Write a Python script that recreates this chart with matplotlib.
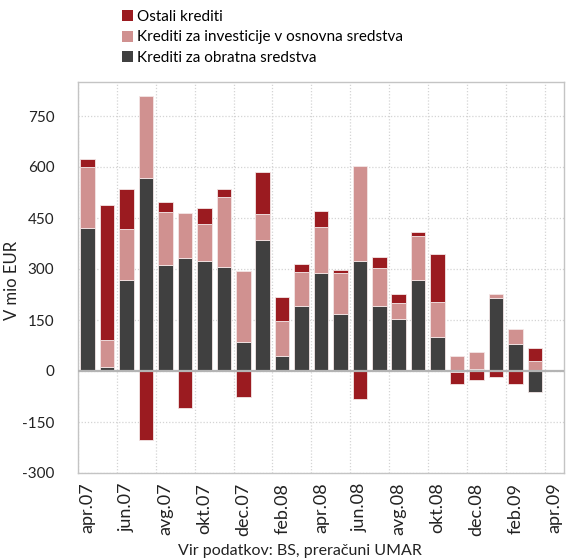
import matplotlib
matplotlib.use("Agg")
import matplotlib.pyplot as plt
import numpy as np
from matplotlib.patches import Patch

plt.rcParams['font.family'] = ['Lato', 'DejaVu Sans']
plt.rcParams['axes.unicode_minus'] = False

months = ["apr.07", "maj.07", "jun.07", "jul.07", "avg.07", "sep.07", "okt.07", "nov.07",
          "dec.07", "jan.08", "feb.08", "mar.08", "apr.08", "maj.08", "jun.08", "jul.08",
          "avg.08", "sep.08", "okt.08", "nov.08", "dec.08", "jan.09", "feb.09", "mar.09",
          "apr.09"]

obratna = [420, 11, 268, 568, 311, 331, 323, 306, 86, 386, 44, 192, 289, 167, 323, 192,
           153, 268, 99, -3, 5, 214, 78, -63, 0]
investicije = [181, 81, 149, 241, 156, 135, 110, 207, 207, 76, 102, 98, 135, 122, 279, 110,
               48, 128, 103, 44, 52, 13, 46, 28, 0]
ostali = [22, 396, 117, -202, 30, -110, 46, 21, -77, 122, 71, 24, 47, 9, -81, 34,
          25, 12, 143, -35, -25, -17, -38, 41, 0]

series = [
    ("Krediti za obratna sredstva", obratna, "#404040"),
    ("Krediti za investicije v osnovna sredstva", investicije, "#d09190"),
    ("Ostali krediti", ostali, "#9b1b20"),
]

TXT = "#222222"

fig = plt.figure(figsize=(5.7, 5.6), dpi=100)
ax = fig.add_axes([78 / 570, 1 - 473 / 560, (564 - 78) / 570, (473 - 82) / 560])

x = np.arange(len(months))
pos_base = np.zeros(len(months))
neg_base = np.zeros(len(months))
for name, vals, col in series:
    v = np.array(vals, dtype=float)
    base = np.where(v >= 0, pos_base, neg_base)
    ax.bar(x, v, bottom=base, width=0.75, color=col, edgecolor="#f3e6e6",
           linewidth=0.6, zorder=3)
    pos_base += np.where(v > 0, v, 0)
    neg_base += np.where(v < 0, v, 0)

ax.set_xlim(-0.5, len(months) - 0.5)
ax.set_ylim(-300, 850)
ax.set_yticks(np.arange(-300, 751, 150))
ax.set_xticks(x[::2])
ax.set_xticklabels(months[::2], rotation=90, fontsize=13, color=TXT)
ax.tick_params(axis="y", labelsize=11, colors=TXT, length=0, pad=17)
ax.tick_params(axis="x", length=0, pad=7)

# dotted grid: horizontal at tick values, vertical every two months
for yv in np.arange(-300, 851, 150):
    ax.axhline(yv, color="#d4d4d4", linestyle=(0, (1, 1.5)), linewidth=0.9, zorder=1)
for xv in np.arange(-0.5, len(months), 2):
    ax.axvline(xv, color="#d4d4d4", linestyle=(0, (1, 1.5)), linewidth=0.9, zorder=1)
ax.axhline(0, color="#b4b4b4", linewidth=1.6, zorder=4)

for s in ax.spines.values():
    s.set_color("#c4c4c4")
    s.set_linewidth(1.0)

ax.set_ylabel("V mio EUR", fontsize=12, color=TXT)
ax.yaxis.set_label_coords((20 - 78) / 486, (473 - 280) / 391)

fig.text(300 / 570, 1 - 551 / 560, "Vir podatkov: BS, preračuni UMAR", ha="center",
         va="center", fontsize=11.5, color=TXT)

handles = [Patch(facecolor=c, edgecolor="none") for _, _, c in series[::-1]]
labels = [n for n, _, _ in series[::-1]]
fig.legend(handles, labels, loc="upper left", bbox_to_anchor=(122 / 570, 1 - 10 / 560),
           frameon=False, fontsize=11, handlelength=0.72, handleheight=0.72,
           handletextpad=0.25, labelspacing=0.42, borderaxespad=0, borderpad=0)

fig.savefig("out.png", dpi=100)
